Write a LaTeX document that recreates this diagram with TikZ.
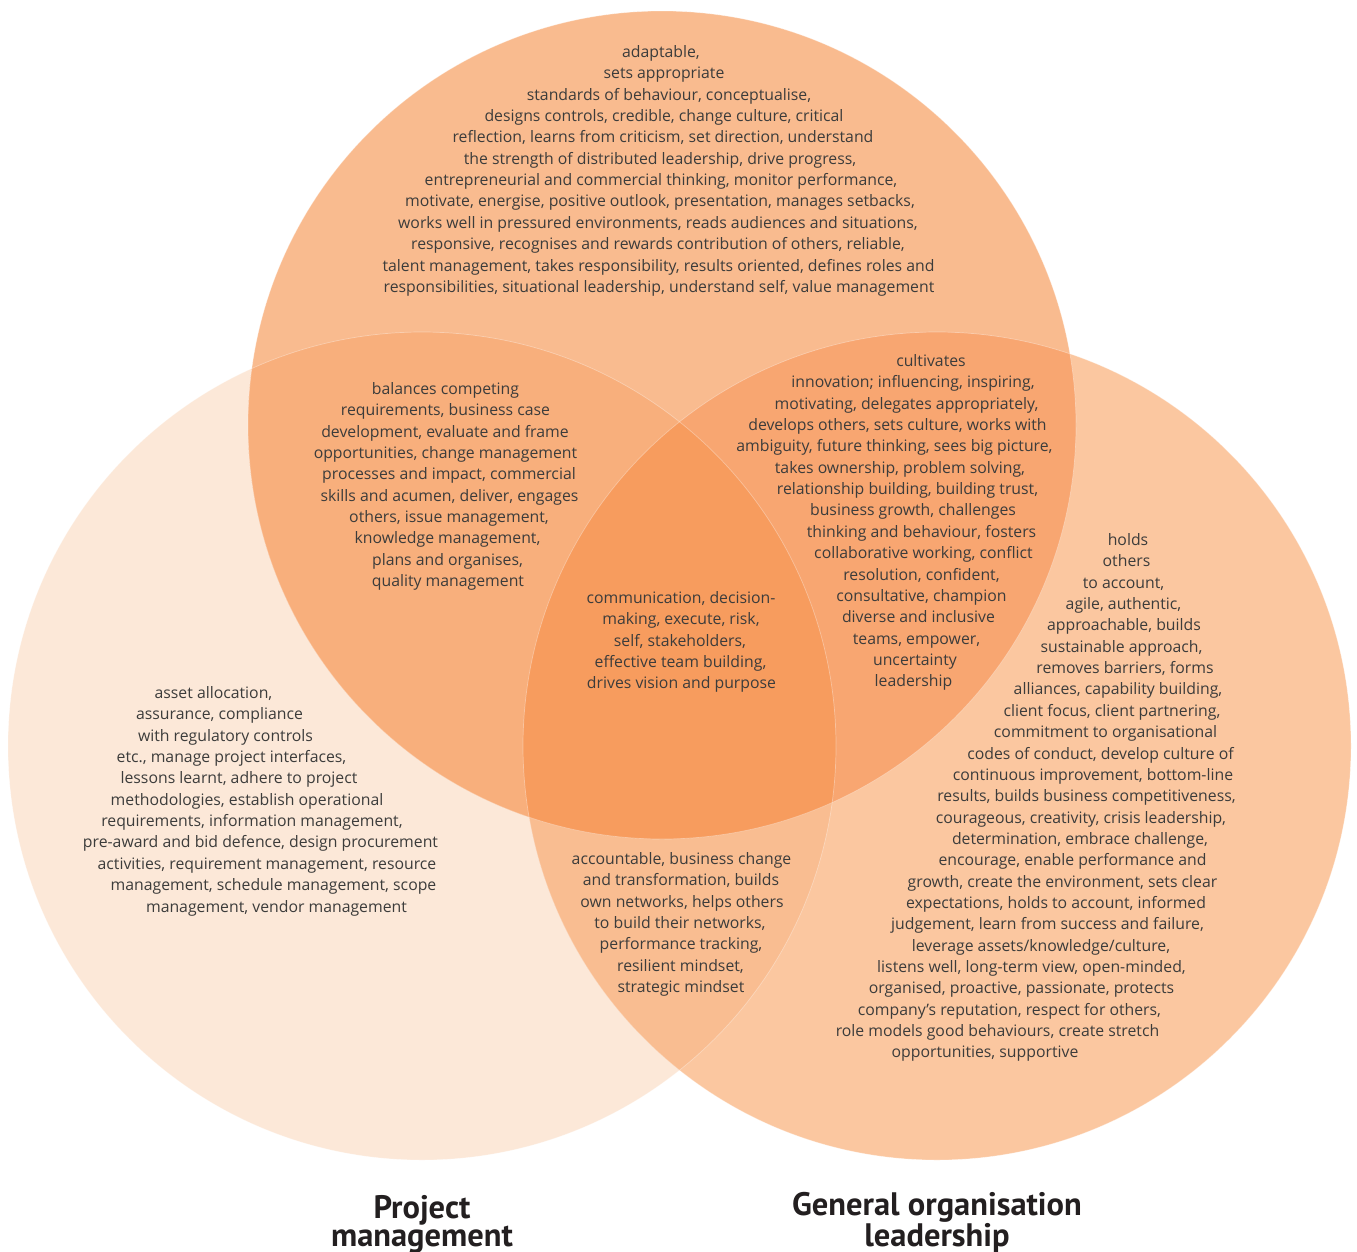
\documentclass[tikz,border=0pt]{standalone}
\usepackage{fontspec}
\setmainfont{Open Sans}
\newfontfamily\titlefont{PT Sans}
\definecolor{cL}{HTML}{FCE8D8}
\definecolor{cT}{HTML}{F9BB8F}
\definecolor{cR}{HTML}{FBC7A0}
\definecolor{cLT}{HTML}{F8AF7C}
\definecolor{cTR}{HTML}{F8A671}
\definecolor{cLR}{HTML}{F9BD91}
\definecolor{cLTR}{HTML}{F79C5E}
\definecolor{txt}{HTML}{3C3C3B}
\definecolor{ttl}{HTML}{231F20}
\begin{document}
\begin{tikzpicture}[x=1pt,y=-1pt,
  ln/.style={anchor=base,inner sep=0pt,text=txt,font=\fontsize{15.8}{19}\selectfont},
  ttlstyle/.style={anchor=base,inner sep=0pt,text=ttl,align=center,font=\titlefont\bfseries\fontsize{32.5}{28}\selectfont},
  rim/.style={draw=white,draw opacity=0.35,line width=0.7pt}]
\useasboundingbox (0,0) rectangle (1357,1251);
\def\rr{414}
\coordinate (T) at (662,425);
\coordinate (L) at (422,746);
\coordinate (R) at (937,746);
% base circles
\fill[cL] (L) circle[radius=\rr];
\fill[cR] (R) circle[radius=\rr];
\fill[cT] (T) circle[radius=\rr];
% pairwise overlaps
\begin{scope}
  \clip (L) circle[radius=\rr];
  \fill[cLT] (T) circle[radius=\rr];
  \fill[cLR] (R) circle[radius=\rr];
\end{scope}
\begin{scope}
  \clip (T) circle[radius=\rr];
  \fill[cTR] (R) circle[radius=\rr];
\end{scope}
% triple overlap
\begin{scope}
  \clip (T) circle[radius=\rr];
  \clip (R) circle[radius=\rr];
  \fill[cLTR] (L) circle[radius=\rr];
\end{scope}
\path[rim] (L) circle[radius=\rr];
\path[rim] (R) circle[radius=\rr];
\path[rim] (T) circle[radius=\rr];

\def\pitch{21.35}
% top circle only
\foreach \cx/\t [count=\i] in {661/{adaptable,},664/{sets appropriate},669/{standards of behaviour, conceptualise,},664/{designs controls, credible, change culture, critical},663/{reflection, learns from criticism, set direction, understand},660/{the strength of distributed leadership, drive progress,},661/{entrepreneurial and commercial thinking, monitor performance,},660/{motivate, energise, positive outlook, presentation, manages setbacks,},658/{works well in pressured environments, reads audiences and situations,},658/{responsive, recognises and rewards contribution of others, reliable,},658.5/{talent management, takes responsibility, results oriented, defines roles and},659/{responsibilities, situational leadership, understand self, value management}}
  \node[ln] (top-\i) at (\cx,{57.5+(\i-1)*\pitch}) {\t};
% top and left
\foreach \cx/\t [count=\i] in {445.5/{balances competing},445.5/{requirements, business case},445/{development, evaluate and frame},445.5/{opportunities, change management},449/{processes and impact, commercial},449.5/{skills and acumen, deliver, engages},449/{others, issue management,},447.5/{knowledge management,},447.5/{plans and organises,},448/{quality management}}
  \node[ln] (tl-\i) at (\cx,{394.5+(\i-1)*\pitch}) {\t};
% all three
\foreach \cx/\t [count=\i] in {681/{communication, decision-},681/{making, execute, risk,},680/{self, stakeholders,},680.5/{effective team building,},681.5/{drives vision and purpose}}
  \node[ln] (c-\i) at (\cx,{603.5+(\i-1)*\pitch}) {\t};
% top and right
\foreach \cx/\t [count=\i] in {931/{cultivates},913/{innovation; influencing, inspiring,},906.5/{motivating, delegates appropriately,},897.5/{develops others, sets culture, works with},894.5/{ambiguity, future thinking, sees big picture,},900/{takes ownership, problem solving,},907.5/{relationship building, building trust,},913/{business growth, challenges},921.5/{thinking and behaviour, fosters},923.5/{collaborative working, conflict},921.5/{resolution, confident,},921.5/{consultative, champion},918.5/{diverse and inclusive},916.5/{teams, empower,},915/{uncertainty},913.5/{leadership}}
  \node[ln] (tr-\i) at (\cx,{366.5+(\i-1)*\pitch}) {\t};
% right only
\foreach \cx/\t [count=\i] in {1128/{holds},1126.5/{others},1123.5/{to account,},1123.5/{agile, authentic,},1124/{approachable, builds},1121.5/{sustainable approach,},1125/{removes barriers, forms},1118/{alliances, capability building,},1112/{client focus, client partnering,},1105.5/{commitment to organisational},1100.5/{codes of conduct, develop culture of},1093/{continuous improvement, bottom-line},1086.5/{results, builds business competitiveness,},1081/{courageous, creativity, crisis leadership,},1080/{determination, embrace challenge,},1072.5/{encourage, enable performance and},1062.5/{growth, create the environment, sets clear},1056/{expectations, holds to account, informed},1047.5/{judgement, learn from success and failure,},1041/{leverage assets/knowledge/culture,},1031.5/{listens well, long-term view, open-minded,},1021.5/{organised, proactive, passionate, protects},1009.5/{company’s reputation, respect for others,},997.5/{role models good behaviours, create stretch},985/{opportunities, supportive}}
  \node[ln] (r-\i) at (\cx,{545.5+(\i-1)*\pitch}) {\t};
% left and right
\foreach \cx/\t [count=\i] in {681.5/{accountable, business change},681/{and transformation, builds},682/{own networks, helps others},680/{to build their networks,},681/{performance tracking,},680.5/{resilient mindset,},681/{strategic mindset}}
  \node[ln] (lr-\i) at (\cx,{864.5+(\i-1)*\pitch}) {\t};
% left only
\foreach \cx/\t [count=\i] in {213.5/{asset allocation,},219.5/{assurance, compliance},225.5/{with regulatory controls},231.5/{etc., manage project interfaces,},239/{lessons learnt, adhere to project},247/{methodologies, establish operational},252/{requirements, information management,},260.5/{pre-award and bid defence, design procurement},267/{activities, requirement management, resource},273.5/{management, schedule management, scope},276.5/{management, vendor management}}
  \node[ln] (l-\i) at (\cx,{698.5+(\i-1)*\pitch}) {\t};

% titles
\node[ttlstyle] (pm) at (422,1246) {Project\\management};
\node[ttlstyle] (gol) at (937,1246) {General organisation\\leadership};
\end{tikzpicture}
\end{document}
